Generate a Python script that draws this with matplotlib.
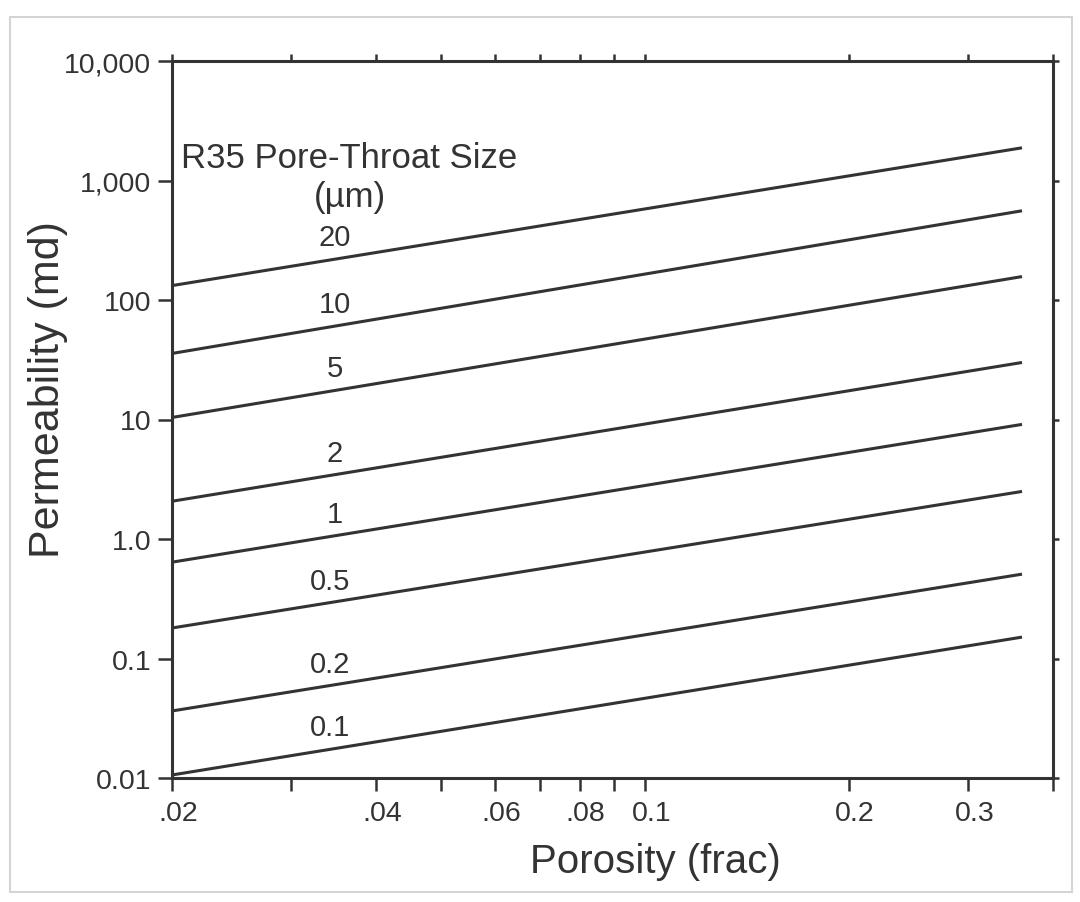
import math
import matplotlib
matplotlib.use("Agg")
import matplotlib.pyplot as plt
from matplotlib.ticker import FixedLocator, FixedFormatter, NullLocator
from matplotlib.patches import Rectangle
import matplotlib.transforms as mtransforms

plt.rcParams['font.family'] = ['Liberation Sans', 'DejaVu Sans']

# ---- data ----
r35_sizes = ["20", "10", "5", "2", "1", "0.5", "0.2", "0.1"]
phi_start = 0.02
phi_end = 0.36
k_at_start = [132, 35.7, 10.4, 2.07, 0.64, 0.18, 0.0364, 0.0106]
k_at_end = [1877, 558, 157, 30.0, 9.1, 2.5, 0.508, 0.151]

x_ticks = [0.02, 0.03, 0.04, 0.05, 0.06, 0.07, 0.08, 0.09, 0.1, 0.2, 0.3, 0.4]
x_tick_labels = [".02", "", ".04", "", ".06", "", ".08", "", "0.1", "0.2", "0.3", ""]
y_ticks = [0.01, 0.1, 1, 10, 100, 1000, 10000]
y_tick_labels = ["0.01", "0.1", "1.0", "10", "100", "1,000", "10,000"]

ink = "#333333"

fig = plt.figure(figsize=(10.8, 9.03), dpi=100)
fig.patch.set_facecolor("white")
ax = fig.add_axes([172/1080, 1-779/903, (1053-172)/1080, (779-62)/903])

for lab, k0, k1 in zip(r35_sizes, k_at_start, k_at_end):
    ax.plot([phi_start, phi_end], [k0, k1], color=ink, lw=2.2, solid_capstyle="butt")
    xl = 0.0348 if len(lab) < 3 else 0.0342
    t = (math.log10(xl) - math.log10(phi_start)) / (math.log10(phi_end) - math.log10(phi_start))
    yl = 10 ** (math.log10(k0) + t * (math.log10(k1) - math.log10(k0)))
    ax.annotate(lab, (xl, yl), xytext=(0, 22), textcoords="offset pixels",
                ha="center", va="center", fontsize=21, color=ink)

ax.set_xscale("log")
ax.set_yscale("log")
ax.set_xlim(0.02, 0.4)
ax.set_ylim(0.01, 10000)

ax.xaxis.set_major_locator(FixedLocator(x_ticks))
ax.xaxis.set_major_formatter(FixedFormatter(x_tick_labels))
ax.xaxis.set_minor_locator(NullLocator())
ax.yaxis.set_major_locator(FixedLocator(y_ticks))
ax.yaxis.set_major_formatter(FixedFormatter(y_tick_labels))
ax.yaxis.set_minor_locator(NullLocator())

for s in ax.spines.values():
    s.set_linewidth(2.2)
    s.set_color(ink)

ax.tick_params(axis="both", which="major", labelsize=20.5, colors=ink, labelcolor=ink)
ax.tick_params(axis="y", left=True, direction="out", length=10, width=1.8, pad=5,
               right=True)
ax.tick_params(axis="x", bottom=True, direction="out", length=9, width=1.8, pad=7,
               top=True)
for tl in ax.yaxis.get_major_ticks():
    tl.tick2line.set_markersize(4)
for tl in ax.xaxis.get_major_ticks():
    tl.tick2line.set_markersize(5)

offset = mtransforms.ScaledTranslation(6/100, 0, fig.dpi_scale_trans)
for lbl in ax.get_xticklabels():
    lbl.set_transform(lbl.get_transform() + offset)

fig.text(181/1080, 1-158/903, "R35 Pore-Throat Size", fontsize=25, color=ink,
         ha="left", va="center")
fig.text(350/1080, 1-198/903, "(\u00b5m)", fontsize=25, color=ink,
         ha="center", va="center")

fig.text(655/1080, 1-862/903, "Porosity (frac)", fontsize=29, color=ink,
         ha="center", va="center")
fig.text(48/1080, 1-390/903, "Permeability (md)", fontsize=31, color=ink,
         ha="center", va="center", rotation=90)

fig.patches.append(Rectangle((10/1080, 10/903), 1062/1080, 875/903,
                             transform=fig.transFigure, fill=False,
                             edgecolor="#d4d4d4", lw=1.5))

fig.savefig("out.png", dpi=100, facecolor="white")
